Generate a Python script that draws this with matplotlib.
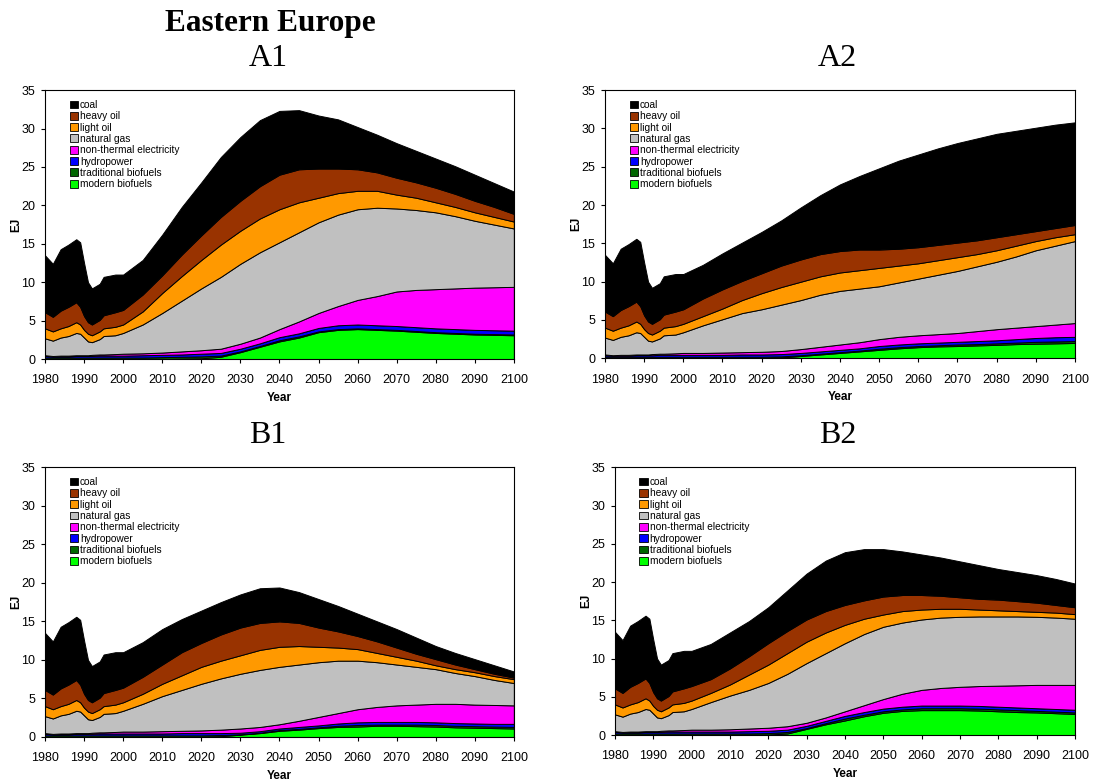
import numpy as np
import matplotlib
matplotlib.use("Agg")
import matplotlib.pyplot as plt
from matplotlib.patches import Patch

# fuels, bottom to top of the stack
FUELS = ["modern biofuels", "traditional biofuels", "hydropower",
         "non-thermal electricity", "natural gas", "light oil", "heavy oil", "coal"]
COLORS = ["#00ff00", "#006600", "#0000ff", "#ff00ff",
          "#c0c0c0", "#ff9900", "#993300", "#000000"]

# years: shared history, then scenario projections
HIST_YEARS = [1980, 1982, 1984, 1986, 1988, 1989, 1990, 1991, 1992, 1994, 1995, 1998, 2000]
PROJ_YEARS = list(range(2005, 2101, 5))

# cumulative band tops (EJ), bottom band first
HIST = [
    [0.0] * 13,
    [0.2] * 13,
    [0.4, 0.35, 0.35, 0.35, 0.4, 0.4, 0.4, 0.4, 0.4, 0.45, 0.45, 0.45, 0.45],
    [0.5, 0.4, 0.45, 0.45, 0.5, 0.5, 0.5, 0.5, 0.55, 0.6, 0.6, 0.65, 0.7],
    [2.7, 2.4, 2.8, 3.0, 3.4, 3.3, 2.8, 2.3, 2.2, 2.6, 3.0, 3.1, 3.4],
    [4.0, 3.6, 4.0, 4.3, 4.8, 4.5, 3.8, 3.3, 3.1, 3.6, 4.0, 4.2, 4.5],
    [6.1, 5.5, 6.3, 6.8, 7.4, 6.8, 5.6, 4.8, 4.5, 5.1, 5.7, 6.1, 6.4],
    [13.5, 12.4, 14.3, 14.9, 15.6, 15.2, 12.5, 10.0, 9.2, 9.8, 10.7, 11.0, 11.0],
]

A1 = [
    [0, 0, 0.05, 0.1, 0.3, 0.9, 1.6, 2.3, 2.8, 3.5, 3.8, 3.9, 3.8, 3.7, 3.55, 3.4, 3.3, 3.2, 3.15, 3.1],
    [0.2, 0.25, 0.3, 0.35, 0.45, 1.0, 1.7, 2.45, 2.95, 3.6, 3.9, 4.0, 3.9, 3.8, 3.65, 3.5, 3.4, 3.3, 3.25, 3.2],
    [0.5, 0.55, 0.6, 0.7, 0.8, 1.35, 2.05, 2.85, 3.35, 4.05, 4.4, 4.5, 4.4, 4.3, 4.15, 4.0, 3.9, 3.8, 3.75, 3.7],
    [0.75, 0.85, 1.0, 1.15, 1.35, 2.0, 2.8, 3.9, 4.9, 6.0, 6.9, 7.7, 8.2, 8.8, 9.0, 9.1, 9.2, 9.3, 9.35, 9.4],
    [4.5, 6.0, 7.6, 9.2, 10.7, 12.4, 13.9, 15.2, 16.5, 17.8, 18.8, 19.5, 19.7, 19.6, 19.4, 19.1, 18.6, 18.0, 17.5, 17.0],
    [6.2, 8.6, 10.8, 12.9, 14.9, 16.7, 18.3, 19.5, 20.4, 21.0, 21.6, 21.9, 21.9, 21.4, 21.0, 20.4, 19.8, 19.1, 18.5, 17.9],
    [8.4, 10.9, 13.6, 16.1, 18.5, 20.6, 22.5, 24.0, 24.7, 24.8, 24.8, 24.7, 24.3, 23.6, 23.0, 22.3, 21.5, 20.6, 19.8, 18.9],
    [12.9, 16.2, 19.8, 23.0, 26.3, 28.9, 31.1, 32.3, 32.4, 31.7, 31.2, 30.2, 29.2, 28.1, 27.1, 26.1, 25.1, 24.0, 22.9, 21.8],
]

A2 = [
    [0, 0, 0, 0.02, 0.1, 0.3, 0.5, 0.7, 0.9, 1.1, 1.3, 1.45, 1.55, 1.6, 1.68, 1.75, 1.85, 1.9, 1.95, 2.0],
    [0.2, 0.2, 0.2, 0.2, 0.25, 0.4, 0.6, 0.8, 1.0, 1.25, 1.45, 1.6, 1.7, 1.8, 1.85, 1.95, 2.05, 2.15, 2.2, 2.25],
    [0.45, 0.45, 0.5, 0.5, 0.55, 0.7, 0.9, 1.1, 1.3, 1.6, 1.8, 1.95, 2.05, 2.15, 2.25, 2.35, 2.5, 2.65, 2.75, 2.8],
    [0.7, 0.75, 0.8, 0.85, 0.95, 1.2, 1.5, 1.8, 2.1, 2.5, 2.8, 3.0, 3.15, 3.3, 3.55, 3.8, 4.0, 4.2, 4.4, 4.6],
    [4.3, 5.1, 5.9, 6.4, 7.0, 7.6, 8.3, 8.8, 9.1, 9.4, 9.9, 10.4, 10.9, 11.4, 12.0, 12.6, 13.3, 14.1, 14.7, 15.3],
    [5.5, 6.5, 7.6, 8.5, 9.3, 10.0, 10.7, 11.2, 11.5, 11.8, 12.1, 12.4, 12.8, 13.2, 13.6, 14.1, 14.7, 15.3, 15.8, 16.2],
    [7.8, 9.0, 10.1, 11.1, 12.1, 12.9, 13.6, 14.0, 14.2, 14.2, 14.3, 14.5, 14.8, 15.1, 15.4, 15.8, 16.2, 16.6, 17.0, 17.4],
    [12.2, 13.7, 15.1, 16.5, 18.0, 19.7, 21.3, 22.7, 23.8, 24.8, 25.8, 26.6, 27.4, 28.1, 28.7, 29.3, 29.7, 30.1, 30.5, 30.8],
]

B1 = [
    [0, 0, 0, 0, 0.1, 0.3, 0.5, 0.8, 0.95, 1.15, 1.3, 1.35, 1.45, 1.45, 1.4, 1.35, 1.25, 1.2, 1.15, 1.1],
    [0.2, 0.2, 0.2, 0.2, 0.25, 0.35, 0.55, 0.9, 1.05, 1.25, 1.45, 1.55, 1.6, 1.6, 1.6, 1.55, 1.45, 1.4, 1.35, 1.3],
    [0.45, 0.45, 0.5, 0.5, 0.5, 0.55, 0.75, 1.1, 1.3, 1.5, 1.75, 1.9, 1.95, 1.95, 1.95, 1.9, 1.8, 1.75, 1.7, 1.7],
    [0.7, 0.75, 0.8, 0.85, 0.95, 1.1, 1.3, 1.65, 2.1, 2.6, 3.1, 3.6, 3.9, 4.1, 4.2, 4.3, 4.3, 4.2, 4.15, 4.1],
    [4.3, 5.3, 6.1, 6.9, 7.6, 8.2, 8.7, 9.1, 9.4, 9.7, 9.9, 9.9, 9.7, 9.4, 9.1, 8.8, 8.3, 7.9, 7.4, 7.0],
    [5.6, 6.9, 8.0, 9.1, 9.9, 10.6, 11.3, 11.7, 11.8, 11.7, 11.6, 11.4, 10.9, 10.4, 9.9, 9.3, 8.8, 8.4, 7.9, 7.5],
    [7.8, 9.4, 11.0, 12.2, 13.3, 14.2, 14.8, 15.0, 14.8, 14.2, 13.7, 13.1, 12.4, 11.6, 10.8, 10.1, 9.4, 8.8, 8.2, 7.7],
    [12.3, 14.0, 15.3, 16.4, 17.5, 18.5, 19.3, 19.4, 18.8, 17.9, 17.0, 16.0, 15.0, 14.0, 12.9, 11.8, 10.9, 10.1, 9.3, 8.5],
]

B2 = [
    [0, 0, 0, 0.05, 0.2, 0.8, 1.4, 1.9, 2.45, 2.9, 3.15, 3.25, 3.25, 3.25, 3.2, 3.1, 3.0, 2.95, 2.85, 2.75],
    [0.2, 0.2, 0.2, 0.25, 0.4, 0.9, 1.55, 2.15, 2.65, 3.1, 3.35, 3.5, 3.5, 3.5, 3.45, 3.35, 3.25, 3.15, 3.05, 2.95],
    [0.45, 0.45, 0.5, 0.55, 0.7, 1.2, 1.85, 2.5, 3.0, 3.45, 3.7, 3.85, 3.85, 3.85, 3.8, 3.7, 3.6, 3.5, 3.4, 3.3],
    [0.7, 0.75, 0.85, 0.95, 1.15, 1.6, 2.3, 3.1, 3.9, 4.7, 5.4, 5.9, 6.15, 6.3, 6.4, 6.45, 6.5, 6.55, 6.55, 6.55],
    [4.3, 5.15, 5.9, 6.8, 8.0, 9.4, 10.7, 12.0, 13.2, 14.15, 14.7, 15.1, 15.35, 15.45, 15.5, 15.5, 15.5, 15.45, 15.35, 15.2],
    [5.5, 6.6, 7.9, 9.2, 10.7, 12.2, 13.4, 14.4, 15.2, 15.75, 16.2, 16.4, 16.5, 16.5, 16.4, 16.3, 16.2, 16.1, 16.0, 15.8],
    [7.3, 8.7, 10.3, 12.0, 13.6, 15.1, 16.2, 17.0, 17.6, 18.1, 18.3, 18.3, 18.2, 18.0, 17.8, 17.7, 17.5, 17.3, 17.0, 16.7],
    [11.9, 13.4, 14.9, 16.7, 18.9, 21.1, 22.8, 23.9, 24.3, 24.3, 24.0, 23.6, 23.2, 22.7, 22.2, 21.7, 21.3, 20.9, 20.4, 19.8],
]

SANS = ["Liberation Sans", "DejaVu Sans"]
SERIF = ["Liberation Serif", "DejaVu Serif"]

fig = plt.figure(figsize=(10.98, 7.84), dpi=100)

panels = [
    ("A1", A1, [0.041, 0.542, 0.427, 0.343], 0.244),
    ("A2", A2, [0.551, 0.543, 0.428, 0.342], 0.763),
    ("B1", B1, [0.041, 0.060, 0.427, 0.344], 0.244),
    ("B2", B2, [0.560, 0.0625, 0.419, 0.3415], 0.763),
]

years = np.array(HIST_YEARS + PROJ_YEARS)

for name, scen, rect, tx in panels:
    ax = fig.add_axes(rect)
    tops = np.array([h + s for h, s in zip(HIST, scen)])
    layers = np.diff(np.vstack([np.zeros(len(years)), tops]), axis=0)
    ax.stackplot(years, layers, colors=COLORS, edgecolor="black", linewidth=0.7)

    ax.set_xlim(1980, 2100)
    ax.set_ylim(0, 35)
    ax.set_xticks(range(1980, 2101, 10))
    ax.set_yticks(range(0, 36, 5))
    ax.tick_params(labelsize=9, length=3, width=0.8, direction="out")
    ax.tick_params(axis="x", pad=8)
    ax.tick_params(axis="y", pad=4)
    for lab in ax.get_xticklabels() + ax.get_yticklabels():
        lab.set_family(SANS)
    for s in ax.spines.values():
        s.set_linewidth(0.8)
    ax.set_xlabel("Year", fontsize=8.5, fontweight="bold", family=SANS, labelpad=4)
    ax.set_ylabel("EJ", fontsize=8.5, fontweight="bold", family=SANS, labelpad=-1)

    handles = [Patch(facecolor=c, edgecolor="black", linewidth=0.6) for c in COLORS][::-1]
    ax.legend(handles, FUELS[::-1], loc="upper left", bbox_to_anchor=(0.038, 0.99),
              frameon=False, prop={"family": SANS, "size": 7.3},
              handlelength=0.8, handleheight=0.8, handletextpad=0.2,
              labelspacing=0.13, borderpad=0.2)

    top_px = rect[1] + rect[3]
    fig.text(tx, top_px + 0.040, name, ha="center", va="center",
             fontsize=23, family=SERIF)

fig.text(0.246, 0.970, "Eastern Europe", ha="center", va="center",
         fontsize=22.5, fontweight="bold", family=SERIF)

fig.savefig("out.png", dpi=100)
